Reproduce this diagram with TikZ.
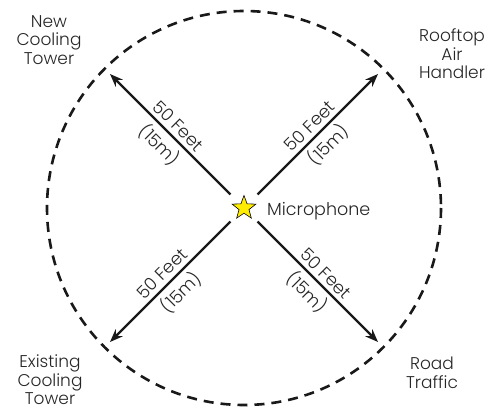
\documentclass[tikz,border=0pt]{standalone}
\usepackage{fontspec}
\setmainfont{Poppins Light}
\usetikzlibrary{arrows.meta,shapes.geometric}
\begin{document}
\begin{tikzpicture}[x=1pt,y=-1pt,
  lbl/.style={font=\fontsize{17}{18.5}\selectfont, align=center, text=black!85, inner sep=1pt},
  dist/.style={font=\fontsize{17.5}{19}\selectfont, text=black!85, inner sep=1pt},
  ring/.style={line width=2.6pt, dash pattern=on 10pt off 7pt, draw=black!90},
  arr/.style={line width=2.4pt, draw=black!90, -{Stealth[length=13pt,width=10pt]}}]
\useasboundingbox (0,0) rectangle (495,417);
\coordinate (c) at (244,208);
\draw[ring] (c) circle[radius=197];
\node[star, star points=5, star point ratio=2.4, minimum size=25pt, inner sep=0pt,
      fill=yellow!95!orange, draw=black, line width=0.6pt] (mic) at (c) {};
\node[circle, minimum size=38pt, inner sep=0pt] (hub) at (c) {};
\node[dist, anchor=west] (miclbl) at (266,211) {Microphone};
\coordinate (nw) at (110,74);
\coordinate (ne) at (378,74);
\coordinate (sw) at (110,342);
\coordinate (se) at (378,342);
\draw[arr] (hub) -- node[dist, sloped, above=3pt] {50 Feet} node[dist, sloped, below=3pt] {(15m)} (nw);
\draw[arr] (hub) -- node[dist, sloped, above=3pt] {50 Feet} node[dist, sloped, below=3pt] {(15m)} (ne);
\draw[arr] (hub) -- node[dist, sloped, above=3pt] {50 Feet} node[dist, sloped, below=3pt] {(15m)} (sw);
\draw[arr] (hub) -- node[dist, sloped, above=3pt] {50 Feet} node[dist, sloped, below=3pt] {(15m)} (se);
\node[lbl] (newct) at (49,40) {New\\Cooling\\Tower};
\node[lbl] (roof) at (452,54) {Rooftop\\Air\\Handler};
\node[lbl] (exct) at (50,380) {Existing\\Cooling\\Tower};
\node[lbl] (road) at (432,373) {Road\\Traffic};
\end{tikzpicture}
\end{document}
